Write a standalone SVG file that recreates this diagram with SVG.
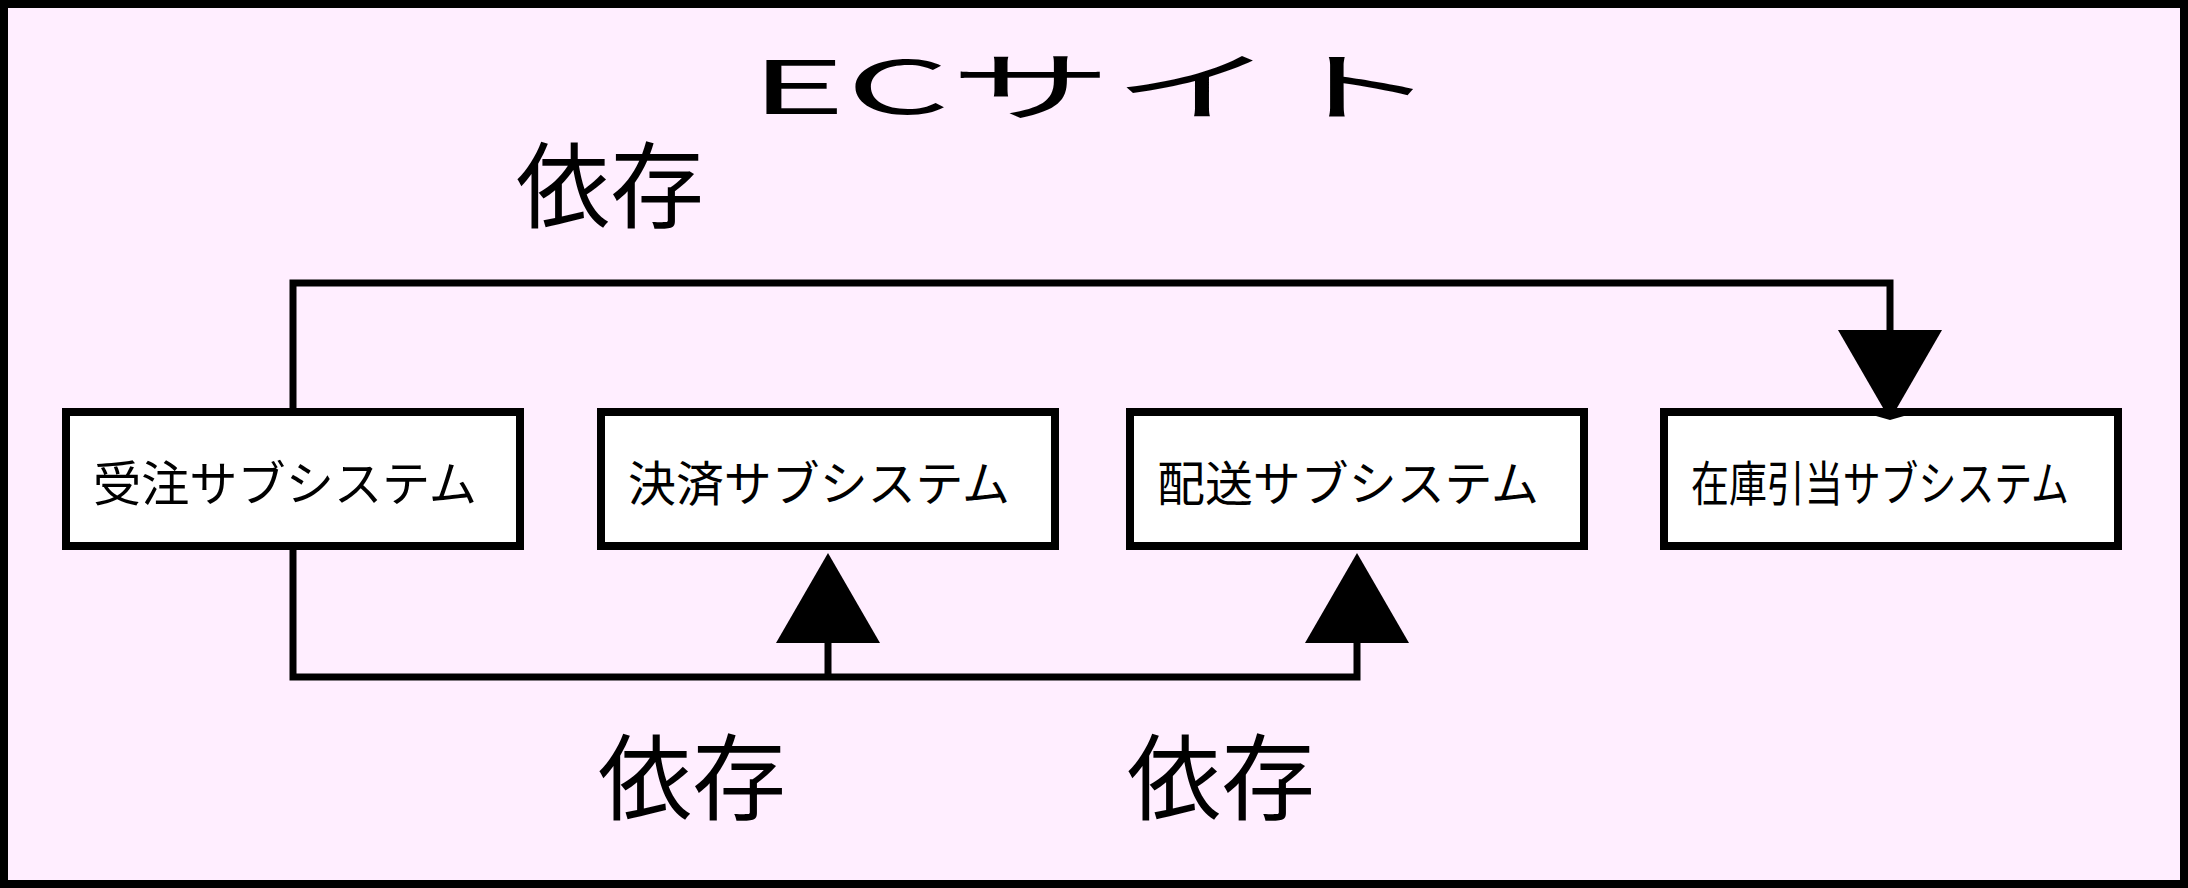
<svg xmlns="http://www.w3.org/2000/svg" width="2188" height="888" viewBox="0 0 2188 888">
<style>
.frame{fill:#FFEEFF;stroke:#000;stroke-width:8}
.node rect{fill:#FFFFFF;stroke:#000;stroke-width:8}
.node text{font-family:"Noto Sans CJK JP","Noto Sans",sans-serif;font-size:48px;fill:#000}
.edge{fill:none;stroke:#000;stroke-width:7}
.head{fill:#000;stroke:none}
.lbl{font-family:"Noto Sans CJK JP","Noto Sans",sans-serif;font-size:94px;fill:#000}
.title{font-family:"Noto Sans CJK JP","Noto Sans",sans-serif;font-size:74px;fill:#000}
</style>
<g id="frame">
<rect class="frame" x="4" y="4" width="2180" height="880"/>
<text class="title" transform="translate(750,114) scale(2.2,1)" x="0" y="0">ECサイト</text>
</g>
<g id="connectors">
<polyline class="edge" points="293,412 293,283 1890,283 1890,335"/>
<polygon class="head" points="1838,330 1942,330 1890,420"/>
<polyline class="edge" points="293,546 293,677 1357,677 1357,638"/>
<polyline class="edge" points="828,677 828,638"/>
<polygon class="head" points="776,643 880,643 828,553"/>
<polygon class="head" points="1305,643 1409,643 1357,553"/>
<text class="lbl" x="516" y="221">依存</text>
<text class="lbl" x="598" y="813">依存</text>
<text class="lbl" x="1127" y="813">依存</text>
</g>
<g id="node-juchu" class="node">
<rect x="66" y="412" width="454" height="134"/>
<text x="93" y="501" textLength="384" lengthAdjust="spacingAndGlyphs">受注サブシステム</text>
</g>
<g id="node-kessai" class="node">
<rect x="601" y="412" width="454" height="134"/>
<text x="628" y="501" textLength="382" lengthAdjust="spacingAndGlyphs">決済サブシステム</text>
</g>
<g id="node-haiso" class="node">
<rect x="1130" y="412" width="454" height="134"/>
<text x="1157" y="501" textLength="382" lengthAdjust="spacingAndGlyphs">配送サブシステム</text>
</g>
<g id="node-zaiko" class="node">
<rect x="1664" y="412" width="454" height="134"/>
<text x="1691" y="501" textLength="378" lengthAdjust="spacingAndGlyphs">在庫引当サブシステム</text>
</g>
<polygon class="head" points="1862,412 1918,412 1890,420"/>
</svg>
